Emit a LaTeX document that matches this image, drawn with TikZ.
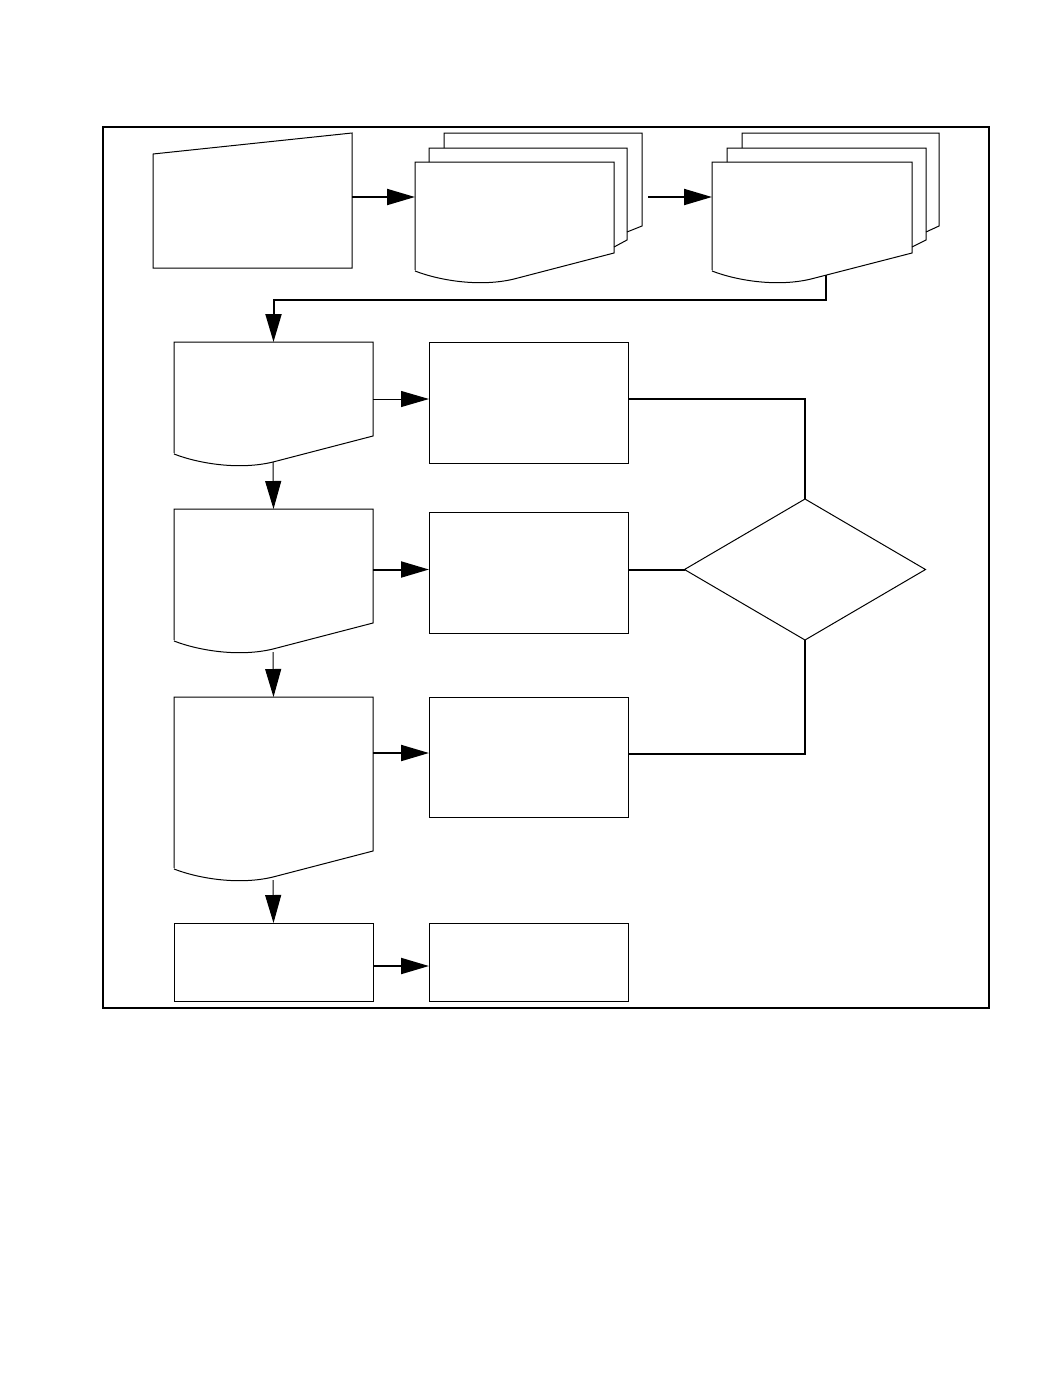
\documentclass[tikz,border=0pt]{standalone}
\usetikzlibrary{arrows.meta,shapes.geometric,fit,calc}
\newcommand\docoutline[4]{%
  \draw[outl] (#1,#4) -- (#1,#2) -- (#3,#2) -- (#3,#4-17) -- (#1+99,#4+9)
    .. controls (#1+66,#4+17) and (#1+26,#4+11) .. (#1,#4+1);}
\begin{document}
\begin{tikzpicture}[x=0.5pt,y=-0.5pt,
  outl/.style={line width=0.5pt},
  box/.style={draw, line width=0.5pt, inner sep=0pt, outer sep=0pt},
  hid/.style={inner sep=0pt, outer sep=0pt},
  thickc/.style={line width=1pt},
  thinc/.style={line width=0.5pt},
  arr/.style={-{Triangle[length=14pt,width=8pt]}}]
\useasboundingbox (0,0) rectangle (1037,1388);
\fill[white] (0,0) rectangle (1037,1388);
\draw[line width=0.6pt] (103,127) rectangle (989,1008);

% manual input
\node[hid, fit={(153,133)(352,268)}] (mi) {};
\draw[outl] (153,154) -- (352,133) -- (352,268) -- (153,268) -- cycle;

% multi-document 1
\draw[outl] (444,148) -- (444,133) -- (642,133) -- (642,226) -- (627,232);
\draw[outl] (429,162) -- (429,148) -- (627,148) -- (627,240) -- (614,247);
\node[hid, fit={(444,133)(642,226)}] (md1b) {};
\node[hid, fit={(415,162)(614,270)}] (md1) {};
\docoutline{415}{162}{614}{270}

% multi-document 2
\draw[outl] (742,148) -- (742,133) -- (939,133) -- (939,226) -- (926,232);
\draw[outl] (727,162) -- (727,148) -- (926,148) -- (926,240) -- (912,247);
\node[hid, fit={(712,162)(912,270)}] (md2) {};
\docoutline{712}{162}{912}{270}
\coordinate (md2w) at (826,275);

% documents
\node[hid, fit={(174,342)(373,453)}] (docA) {};
\docoutline{174}{342}{373}{453}
\coordinate (docAw) at (273,462);
\node[hid, fit={(174,509)(373,640)}] (docB) {};
\docoutline{174}{509}{373}{640}
\coordinate (docBw) at (273,652);
\node[hid, fit={(174,697)(373,868)}] (docC) {};
\docoutline{174}{697}{373}{868}
\coordinate (docCw) at (273,880);

% rectangles
\node[box, fit={(429,342)(628,463)}] (r1) {};
\node[box, fit={(429,512)(628,633)}] (r2) {};
\node[box, fit={(429,697)(628,817)}] (r3) {};
\node[box, fit={(174,923)(373,1001)}] (d) {};
\node[box, fit={(429,923)(628,1001)}] (e) {};

% decision
\node[diamond, draw, line width=0.5pt, inner sep=0pt, outer sep=0pt,
      minimum width=120.5pt, minimum height=70.5pt] (dia) at (805,569.5) {};

% connectors
\draw[thickc, arr] (mi.east |- 0,197) -- (md1.west |- 0,197);
\draw[thickc, arr, shorten <=3pt] (md1b.east |- 0,197) -- (md2.west |- 0,197);
\draw[thickc, arr] (md2w) -- ++(0,25) -| (docA.north);
\draw[thinc, arr] (docA.east |- 0,399) -- (r1.west |- 0,399);
\draw[thinc, arr] (docAw) -- (docB.north);
\draw[thickc, arr] (docB.east |- dia.west) -- (r2.west |- dia.west);
\draw[thinc, arr] (docBw) -- (docC.north);
\draw[thickc, arr] (docC.east |- 0,753) -- (r3.west |- 0,753);
\draw[thinc, arr] (docCw) -- (d.north);
\draw[thickc, arr] (d.east |- 0,966) -- (e.west |- 0,966);
\draw[thickc] (r1.east |- 0,399) -| (dia.north);
\draw[thickc] (r2.east |- dia.west) -- (dia.west);
\draw[thickc] (dia.south) |- (r3.east |- 0,754);
\end{tikzpicture}
\end{document}
